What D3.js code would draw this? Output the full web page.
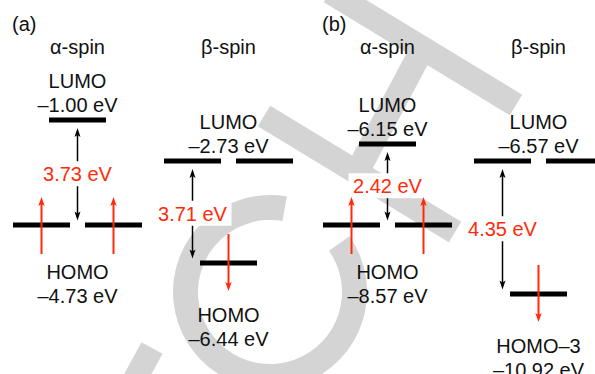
<!DOCTYPE html>
<html><head><meta charset="utf-8">
<script src="https://cdn.jsdelivr.net/npm/d3@7"></script>
<style>html,body{margin:0;padding:0;background:#fff;} svg{display:block;}</style>
</head><body><svg id="c" width="595" height="374"></svg>
<script>
// ---------------- data ----------------
const panels = ["a", "b"];
const panelLabels = ["(a)", "(b)"];
const spins = ["α", "β"];
const spinLabels = ["α-spin", "β-spin"];

const levelPanel      = ["a", "a", "a", "a", "b", "b", "b", "b"];
const levelSpin       = ["α", "α", "β", "β", "α", "α", "β", "β"];
const levelName       = ["LUMO", "HOMO", "LUMO", "HOMO", "LUMO", "HOMO", "LUMO", "HOMO–3"];
const levelEnergy     = [-1.00, -4.73, -2.73, -6.44, -6.15, -8.57, -6.57, -10.92];
const levelDegeneracy = [1, 2, 2, 1, 1, 2, 2, 1];
const levelElectron   = [0, 1, 0, -1, 0, 1, 0, -1]; // +1 spin up, -1 spin down (per orbital)

const gapPanel = ["a", "a", "b", "b"];
const gapSpin  = ["α", "β", "α", "β"];
const gapValue = [3.73, 3.71, 2.42, 4.35];

// ---------------- layout ----------------
const W = 595, H = 374;
const RED = "#ff2a0a";
const FONT = "'Liberation Sans', Arial, Helvetica, sans-serif";
// schematic (not to scale) vertical rows of the levels, per panel
const schematicRows = { a: [120, 161, 225, 263], b: [144, 161, 225, 294] };

const svg = d3.select("#c").attr("font-family", FONT);
svg.append("rect").attr("width", W).attr("height", H).attr("fill", "#fff");

// watermark (decoration)
const wm = svg.append("g").attr("fill", "none").attr("stroke", "#d4d4d4").attr("stroke-width", 24);
wm.append("path").attr("d", "M330,-8L516,105");
wm.append("path").attr("d", "M424,46L356,174");
wm.append("path").attr("d", "M264,116L455,232");
wm.append("path").attr("d", "M128,392L152,348");
svg.append("path")
  .attr("transform", "translate(270,292)")
  .attr("fill", "#d4d4d4")
  .attr("d", d3.arc().innerRadius(72).outerRadius(97)
    .startAngle(55 * Math.PI / 180).endAngle(370 * Math.PI / 180)());

// scales
const xPanel = d3.scaleBand().domain(panels).range([0, 620]);
const xSpin = d3.scalePoint().domain(spins).range([77.5, 228.5]);
const colX = (p, s) => xPanel(p) + xSpin(s);

const yScale = {};
panels.forEach(p => {
  const e = levelEnergy.filter((v, i) => levelPanel[i] === p).sort((a, b) => b - a);
  yScale[p] = d3.scaleLinear().domain(e).range(schematicRows[p]);
});

const BAR_W = 57, BAR_H = 5, DEG_OFF = 36;
const fmtE = v => "–" + Math.abs(v).toFixed(2) + " eV";

const levels = levelEnergy.map((e, i) => {
  const p = levelPanel[i], s = levelSpin[i];
  const cx = colX(p, s);
  const n = levelDegeneracy[i];
  const xs = n === 1 ? [cx] : [cx - DEG_OFF, cx + DEG_OFF];
  return { p, s, name: levelName[i], e, cx, xs, y: yScale[p](e), el: levelElectron[i] };
});

// panel + spin headings
panels.forEach((p, pi) => {
  svg.append("text").attr("x", xPanel(p) + 12).attr("y", 31)
    .attr("font-size", 20).attr("fill", "#111").text(panelLabels[pi]);
  spins.forEach((s, si) => {
    svg.append("text").attr("x", colX(p, s)).attr("y", 54).attr("text-anchor", "middle")
      .attr("font-size", 20).attr("fill", "#111").text(spinLabels[si]);
  });
});

// level bars
const gBars = svg.append("g");
levels.forEach(l => {
  l.xs.forEach(x => {
    gBars.append("rect").attr("x", x - BAR_W / 2).attr("y", l.y - BAR_H / 2)
      .attr("width", BAR_W).attr("height", BAR_H).attr("fill", "#000");
  });
});

// level labels
levels.forEach(l => {
  const t = svg.append("text").attr("text-anchor", "middle").attr("font-size", 20).attr("fill", "#111");
  let y1;
  if (l.name.startsWith("LUMO")) y1 = l.y - 32;
  else y1 = l.y + (l.el > 0 ? 54 : 59);
  t.append("tspan").attr("x", l.cx).attr("y", y1).text(l.name);
  t.append("tspan").attr("x", l.cx).attr("y", y1 + 23.5).text(fmtE(l.e));
});

function arrowHead(g, x, y, dir, color, len, hw) {
  // dir = -1 tip pointing up, +1 tip pointing down
  g.append("path")
    .attr("d", `M${x},${y}L${x - hw},${y - dir * len}L${x},${y - dir * (len - 2)}L${x + hw},${y - dir * len}Z`)
    .attr("fill", color);
}

// gap arrows with labels
const gGap = svg.append("g");
gapValue.forEach((v, i) => {
  const p = gapPanel[i], s = gapSpin[i];
  const L = levels.find(l => l.p === p && l.s === s && l.name === "LUMO");
  const Hm = levels.find(l => l.p === p && l.s === s && l.name !== "LUMO");
  const x = L.xs[0];
  const top = L.y + BAR_H / 2 + 5.5, bot = Hm.y - BAR_H / 2 - 2;
  gGap.append("line").attr("x1", x).attr("x2", x).attr("y1", top + 6).attr("y2", bot - 6)
    .attr("stroke", "#000").attr("stroke-width", 1.5);
  arrowHead(gGap, x, top, -1, "#000", 9, 3);
  arrowHead(gGap, x, bot, 1, "#000", 9, 3);
  const mid = (top + bot) / 2;
  const label = v.toFixed(2) + " eV";
  const tw = 70;
  gGap.append("rect").attr("x", x - tw / 2 - 4).attr("y", mid - 13).attr("width", tw + 8).attr("height", 25)
    .attr("fill", "#fff");
  gGap.append("text").attr("x", x).attr("y", mid).attr("dy", "0.36em").attr("text-anchor", "middle")
    .attr("font-size", 20).attr("fill", RED).text(label);
});

// electrons (red arrows)
const gEl = svg.append("g");
levels.filter(l => l.el !== 0).forEach(l => {
  l.xs.forEach(x => {
    const dir = l.el > 0 ? -1 : 1; // up arrow tip at top
    const start = l.y - dir * 29, tip = l.y + dir * 28;
    gEl.append("line").attr("x1", x).attr("x2", x).attr("y1", start).attr("y2", tip - dir * 6)
      .attr("stroke", RED).attr("stroke-width", 2);
    arrowHead(gEl, x, tip, dir, RED, 9, 3.2);
  });
});
</script></body></html>
